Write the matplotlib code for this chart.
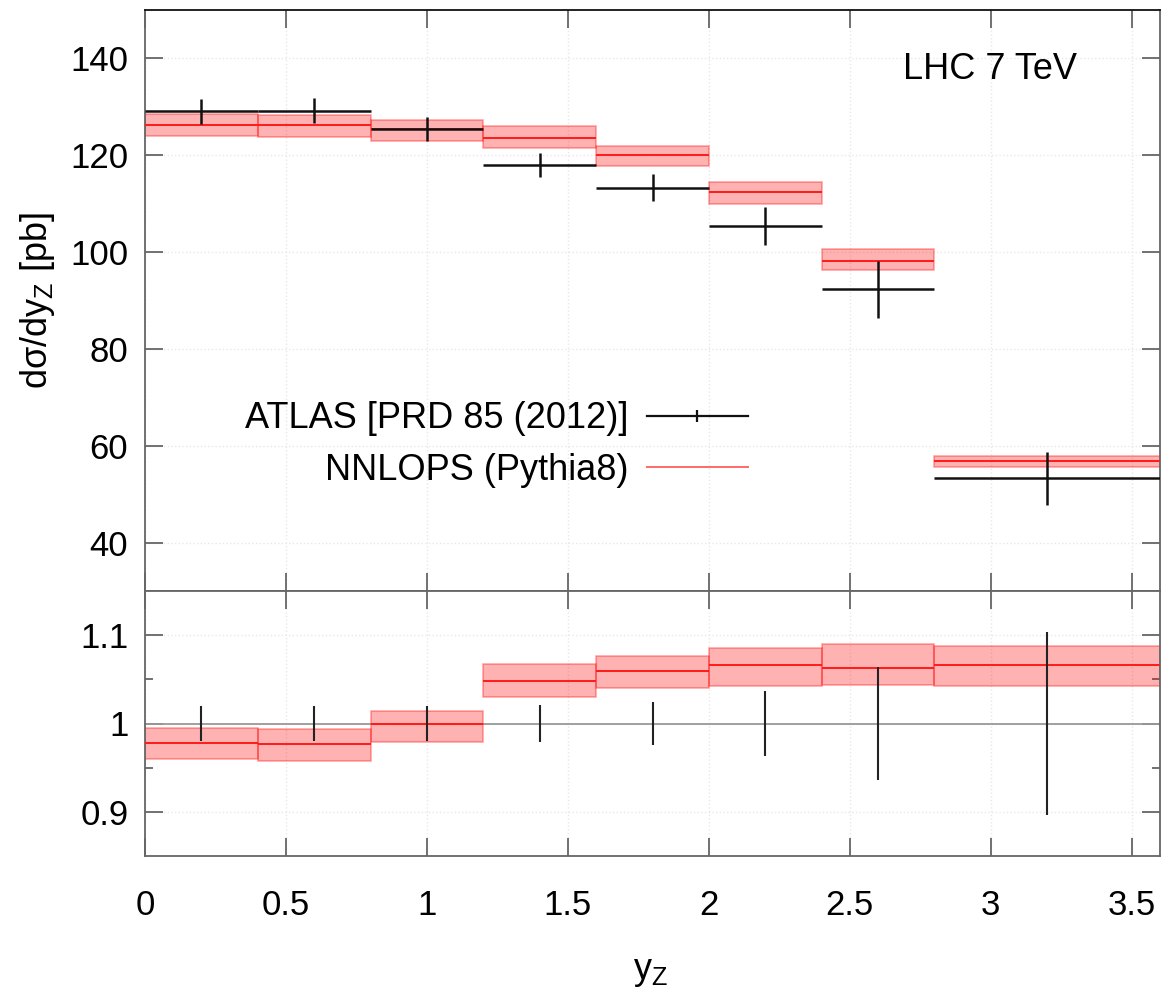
import numpy as np
import matplotlib
matplotlib.use("Agg")
import matplotlib.pyplot as plt
from matplotlib.lines import Line2D

plt.rcParams['font.family'] = ['Liberation Sans', 'DejaVu Sans']
plt.rcParams['mathtext.fontset'] = 'custom'
plt.rcParams['mathtext.rm'] = 'Liberation Sans'
plt.rcParams['mathtext.it'] = 'Liberation Sans:italic'

# Z-boson rapidity bins
bin_edges = [0.0, 0.4, 0.8, 1.2, 1.6, 2.0, 2.4, 2.8, 3.6]

# ATLAS measurement dsigma/dy_Z [pb] and total uncertainty
atlas_xs = [129.1, 129.2, 125.5, 118.0, 113.3, 105.4, 92.3, 53.3]
atlas_err = [2.6, 2.6, 2.5, 2.45, 2.75, 3.9, 5.95, 5.5]

# NNLOPS (Pythia8) prediction: central value and scale-variation band
nnlops_xs = [126.3, 126.2, 125.5, 123.65, 120.0, 112.4, 98.1, 56.8]
nnlops_lo = [123.9, 123.7, 122.85, 121.5, 117.85, 109.85, 96.3, 55.55]
nnlops_hi = [128.45, 128.4, 127.3, 126.0, 122.0, 114.45, 100.6, 57.95]

legend_labels = ["ATLAS [PRD 85 (2012)]", "NNLOPS (Pythia8)"]
energy_label = "LHC 7 TeV"

edges = np.array(bin_edges)
lo_e, hi_e = edges[:-1], edges[1:]
centers = 0.5 * (lo_e + hi_e)
halfw = 0.5 * (hi_e - lo_e)
widths = hi_e - lo_e
data = np.array(atlas_xs)
derr = np.array(atlas_err)
nc = np.array(nnlops_xs)
nlo = np.array(nnlops_lo)
nhi = np.array(nnlops_hi)

FS = 26
TFS = 25
band_face = (1.0, 0.0, 0.0, 0.30)
band_edge = (1.0, 0.0, 0.0, 0.35)
tick_col = '#666666'

fig = plt.figure(figsize=(11.68, 9.91), dpi=100)
L, W = 145 / 1168, 1015 / 1168
ax = fig.add_axes([L, 1 - 591 / 991, W, 581 / 991])
axr = fig.add_axes([L, 1 - 856 / 991, W, 265 / 991], sharex=ax)


def style(a):
    for s in a.spines.values():
        s.set_color('#666666')
        s.set_linewidth(1.3)
    a.tick_params(which='both', direction='in', top=True, right=True,
                  color=tick_col, width=1.3, labelsize=TFS)
    a.tick_params(which='major', length=13)
    a.tick_params(which='minor', length=6)
    a.grid(True, which='major', color='#e8e8e8', linestyle=':', linewidth=1.0)
    a.set_axisbelow(True)


# ---- main panel ----
style(ax)
ax.spines['top'].set_color('#111111')
ax.bar(centers, nhi - nlo, width=widths, bottom=nlo, align='center',
       facecolor=band_face, edgecolor=band_edge, linewidth=1.2, zorder=2)
ax.hlines(nc, lo_e, hi_e, color='#ff1a1a', linewidth=1.4, zorder=3)
ax.errorbar(centers, data, xerr=halfw, yerr=derr, fmt='none',
            ecolor='#111111', elinewidth=1.8, capsize=0, zorder=4)
ax.set_xlim(0, 3.6)
ax.set_ylim(30, 150)
ax.set_yticks([40, 60, 80, 100, 120, 140])
ax.set_xticks([0, 0.5, 1, 1.5, 2, 2.5, 3, 3.5])
ax.tick_params(axis='x', labelbottom=False)
ax.tick_params(axis='y', pad=12)

ax.text(0.833, 0.897, energy_label, transform=ax.transAxes, fontsize=FS,
        ha='center', va='center')

handles = [
    Line2D([], [], color='#111111', linewidth=1.6, marker='|',
           markersize=8, markeredgewidth=1.6),
    Line2D([], [], color='#ff6a6a', linewidth=1.4),
]
ax.legend(handles, legend_labels, loc='center right',
          bbox_to_anchor=(0.594, 0.252), frameon=False, fontsize=FS,
          markerfirst=False, handlelength=2.8, handletextpad=0.5,
          labelspacing=0.45, borderpad=0, borderaxespad=0)

# ---- ratio panel ----
style(axr)
ratio = nc / data
ratio_lo = nlo / data
ratio_hi = nhi / data
rel_err = derr / data
axr.axhline(1.0, color='#999999', linewidth=1.3, zorder=1)
axr.bar(centers, ratio_hi - ratio_lo, width=widths, bottom=ratio_lo,
        align='center', facecolor=band_face, edgecolor=band_edge,
        linewidth=1.2, zorder=2)
axr.hlines(ratio, lo_e, hi_e, color='#ff1a1a', linewidth=1.4, zorder=3)
axr.errorbar(centers, np.ones_like(centers), yerr=rel_err, fmt='none',
             ecolor='#222222', elinewidth=1.5, capsize=0, zorder=4)
axr.set_ylim(0.85, 1.15)
axr.set_yticks([0.9, 1.0, 1.1])
axr.set_yticklabels(['0.9', '1', '1.1'])
axr.set_yticks([0.95, 1.05], minor=True)
axr.set_xticks([0, 0.5, 1, 1.5, 2, 2.5, 3, 3.5])
axr.set_xticklabels(['0', '0.5', '1', '1.5', '2', '2.5', '3', '3.5'])
axr.tick_params(axis='x', pad=24)
axr.tick_params(axis='y', pad=12)
axr.set_xlabel('y$_{\\mathrm{Z}}$', fontsize=FS)
axr.xaxis.set_label_coords(0.4985, -0.37)

fig.text(38 / 1168, 1 - 300 / 991, 'dσ/dy$_{\\mathrm{Z}}$ [pb]', fontsize=FS,
         rotation=90, ha='center', va='center')

fig.savefig('out.png', dpi=100)
